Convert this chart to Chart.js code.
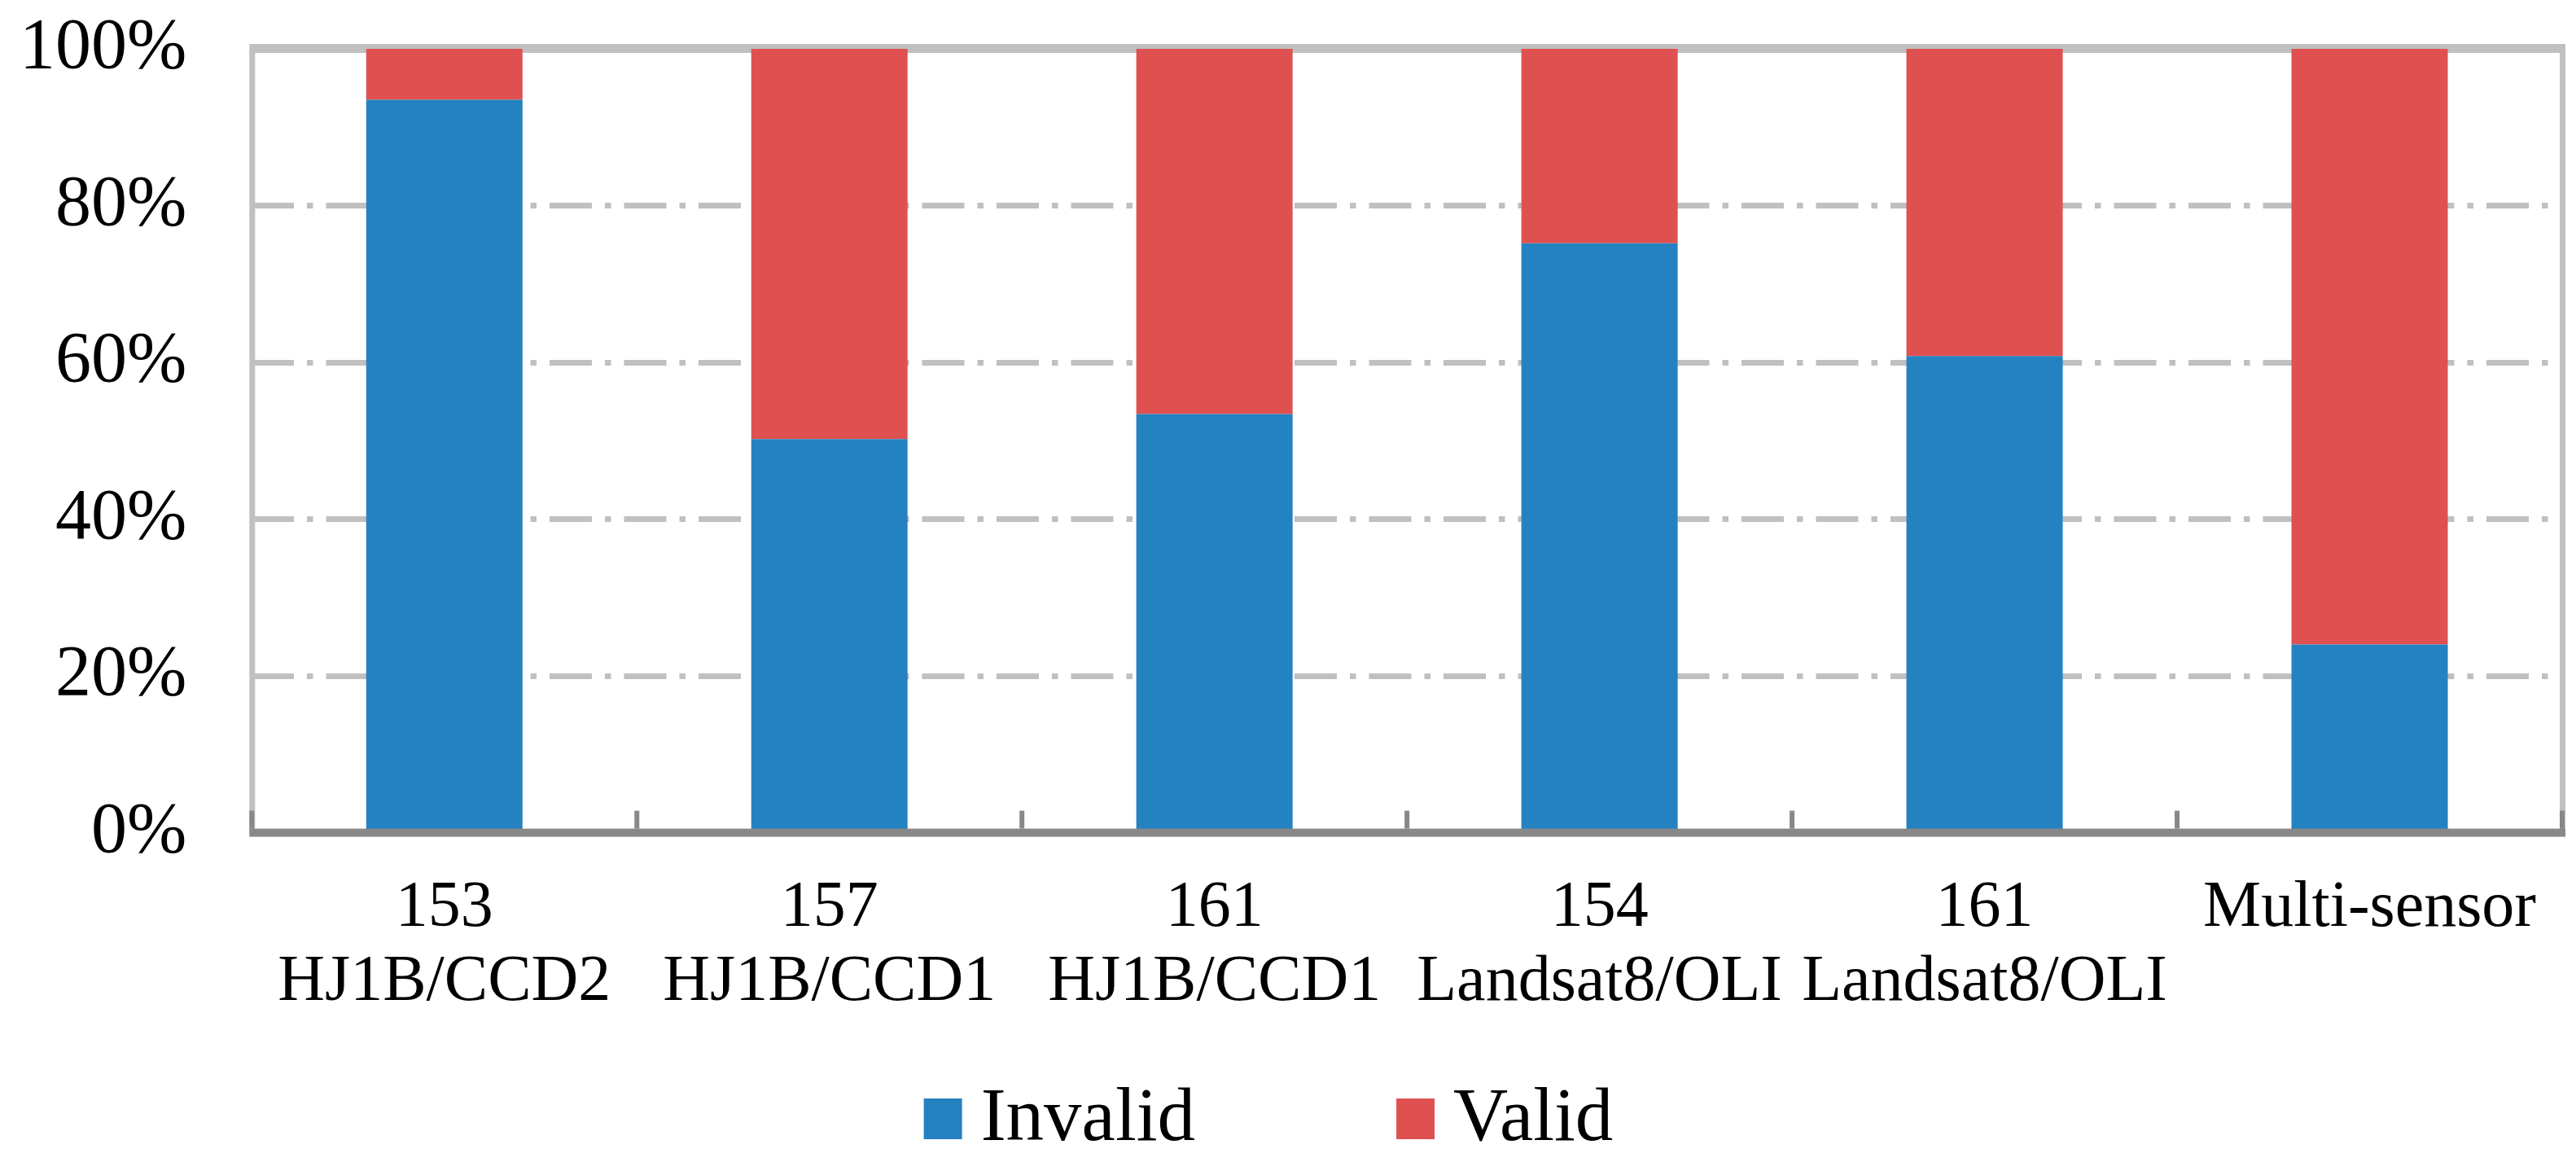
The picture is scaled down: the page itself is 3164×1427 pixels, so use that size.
<!DOCTYPE html>
<html lang="en">
  <head>
    <meta charset="UTF-8" />
    <title>Invalid / Valid share per scene</title>
    <script src="https://cdn.jsdelivr.net/npm/chart.js"></script>
    <style>
      html, body {
        margin: 0;
        padding: 0;
        background: white;
      }
      #chartContainer {
        width: 3164px;
        height: 1427px;
      }
    </style>
  </head>
  <body>
    <div id="chartContainer">
      <canvas id="shareChart" width="3164" height="1427"></canvas>
    </div>

    <script>
      // data (percent of each bar)
      const categories = [
        ['153', 'HJ1B/CCD2'],
        ['157', 'HJ1B/CCD1'],
        ['161', 'HJ1B/CCD1'],
        ['154', 'Landsat8/OLI'],
        ['161', 'Landsat8/OLI'],
        'Multi-sensor',
      ]
      const invalidPct = [93.5, 50.2, 53.4, 75.2, 60.8, 24.0]
      const validPct = [6.5, 49.8, 46.6, 24.8, 39.2, 76.0]
      const yTicks = [0, 20, 40, 60, 80, 100]

      const serif = '"Liberation Serif", "Times New Roman", serif'
      Chart.defaults.font.family = serif
      Chart.defaults.color = '#000'

      // plot frame + inward tick marks, like the Excel original
      const frame = {
        id: 'frame',
        beforeDatasetsDraw(chart) {
          const { ctx, chartArea: a } = chart
          ctx.save()
          ctx.fillStyle = '#c0c0c0'
          ctx.fillRect(a.left - 3, a.top - 6, a.right - a.left + 7, 11)
          ctx.fillRect(a.left - 3, a.top, 7, a.bottom - a.top)
          ctx.fillRect(a.right - 3, a.top, 7, a.bottom - a.top)
          ctx.restore()
        },
        afterDatasetsDraw(chart) {
          const { ctx, chartArea: a, scales } = chart
          const x = scales.x
          ctx.save()
          ctx.fillStyle = '#888888'
          ctx.fillRect(a.left - 3, a.bottom - 5, a.right - a.left + 7, 10)
          for (let i = 0; i <= categories.length; i++) {
            const px = x.getPixelForValue(i - 0.5)
            ctx.fillRect(px - 3, a.bottom - 27, 6, 22)
          }
          ctx.restore()
        },
      }

      // legend row drawn below the axis labels
      const legendRow = {
        id: 'legendRow',
        afterDraw(chart) {
          const ctx = chart.ctx
          const box = 47
          const gap = 23
          const space = 247
          const baseY = 1400
          ctx.save()
          ctx.font = '93px ' + serif
          ctx.textBaseline = 'alphabetic'
          const items = chart.data.datasets.map((d) => ({
            text: d.label,
            color: d.backgroundColor,
            w: ctx.measureText(d.label).width,
          }))
          const total =
            items.reduce((s, it) => s + box + gap + it.w, 0) +
            space * (items.length - 1)
          let x = 1558 - total / 2
          items.forEach((it) => {
            ctx.fillStyle = it.color
            ctx.fillRect(x, 1349, box, 50)
            ctx.fillStyle = '#000'
            ctx.fillText(it.text, x + box + gap, baseY)
            x += box + gap + it.w + space
          })
          ctx.restore()
        },
      }

      // Chart.js reserves the tick padding twice and adds label overflow
      // padding around the plot; undo both so the plot fills the frame
      const tightFit = (scale) => {
        const pad = scale.options.ticks.padding
        if (scale.isHorizontal()) scale.height -= pad
        else scale.width -= pad
        scale.paddingTop = 0
        scale.paddingBottom = 0
        scale.paddingLeft = 0
        scale.paddingRight = 0
      }

      const ctx = document.getElementById('shareChart').getContext('2d')
      const shareChart = new Chart(ctx, {
        type: 'bar',
        data: {
          labels: categories,
          datasets: [
            {
              label: 'Invalid',
              data: invalidPct,
              backgroundColor: '#2582c0',
              borderWidth: 0,
            },
            {
              label: 'Valid',
              data: validPct,
              backgroundColor: '#df5150',
              borderWidth: 0,
            },
          ],
        },
        options: {
          responsive: false,
          animation: false,
          devicePixelRatio: 1,
          layout: {
            padding: { left: 24, right: 17, top: 60, bottom: 174 },
          },
          datasets: {
            bar: { categoryPercentage: 1, barPercentage: 0.406 },
          },
          plugins: {
            legend: { display: false },
            tooltip: { enabled: false },
          },
          scales: {
            x: {
              stacked: true,
              afterFit: tightFit,
              grid: { display: false, drawTicks: false },
              border: { display: false },
              ticks: {
                font: { size: 80, lineHeight: 1.14 },
                padding: 48,
                maxRotation: 0,
                autoSkip: false,
              },
            },
            y: {
              stacked: true,
              min: 0,
              max: 100,
              afterFit: tightFit,
              afterBuildTicks(scale) {
                scale.ticks = yTicks.map((v) => ({ value: v }))
              },
              grid: {
                color: (c) =>
                  c.tick && (c.tick.value === 0 || c.tick.value === 100)
                    ? 'rgba(0,0,0,0)'
                    : '#c0c0c0',
                lineWidth: 7,
                drawTicks: false,
              },
              border: { display: false, dash: [52, 16, 7.5, 16] },
              ticks: {
                font: { size: 88 },
                padding: 80,
                callback: (v) => v + '%',
              },
            },
          },
        },
        plugins: [frame, legendRow],
      })
    </script>
  </body>
</html>
